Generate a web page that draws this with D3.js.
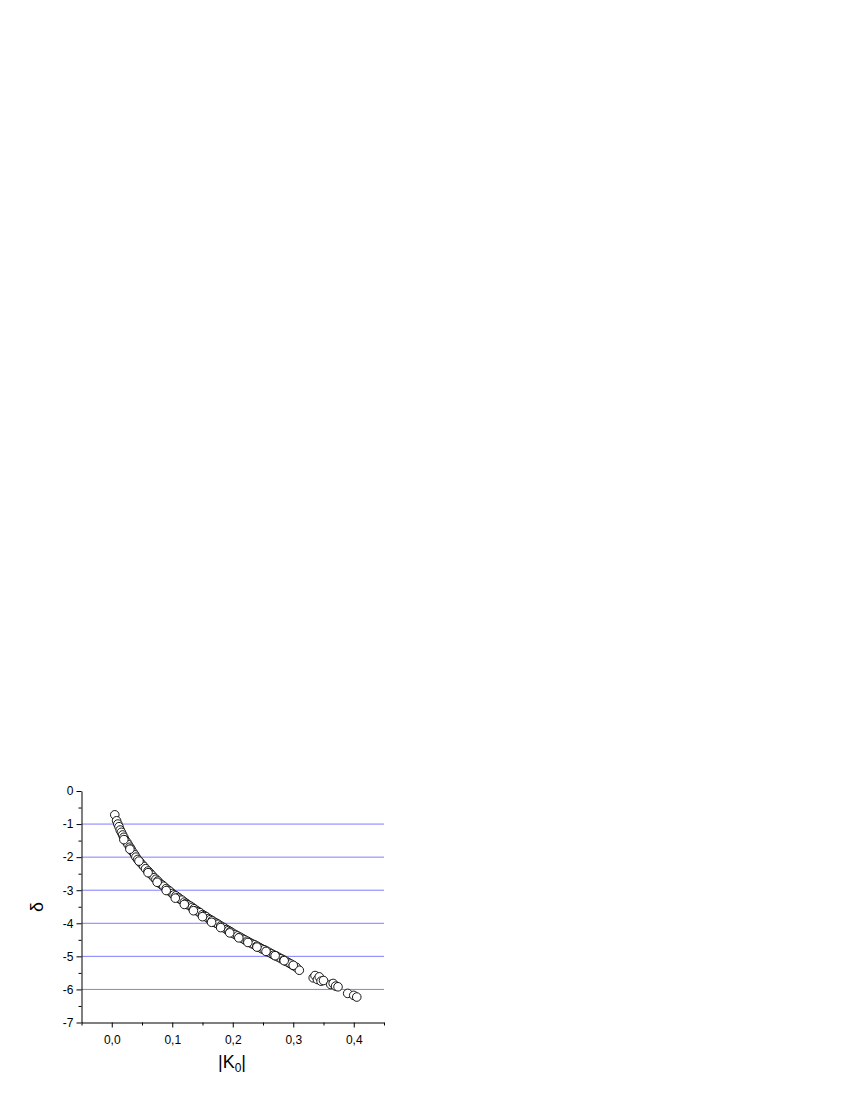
<!DOCTYPE html><html><head><script src="https://cdn.jsdelivr.net/npm/d3@7"></script>
<style>body{margin:0;background:#fff}</style></head><body><svg width="850" height="1100"></svg><script>
const kValues=[0.005,0.008,0.010,0.012,0.014,0.016,0.018,0.020,0.022,0.025,0.027,0.030,0.032,0.035,0.038,0.040,0.043,0.046,0.050,0.053,0.056,0.060,0.063,0.066,0.070,0.073,0.076,0.080,0.083,0.086,0.090,0.093,0.096,0.100,0.103,0.106,0.110,0.113,0.116,0.120,0.123,0.126,0.130,0.133,0.136,0.140,0.143,0.146,0.150,0.153,0.156,0.160,0.163,0.166,0.170,0.173,0.176,0.180,0.183,0.186,0.190,0.193,0.196,0.200,0.204,0.208,0.212,0.216,0.220,0.224,0.228,0.232,0.236,0.240,0.244,0.248,0.252,0.256,0.260,0.264,0.268,0.272,0.276,0.280,0.284,0.288,0.292,0.296,0.300,0.305,0.310,0.333,0.336,0.340,0.343,0.346,0.350,0.362,0.366,0.370,0.374,0.390,0.400,0.405,
0.020,0.030,0.045,0.060,0.075,0.090,0.105,0.120,0.135,0.150,0.165,0.180,0.195,0.210,0.225,0.240,0.255,0.270,0.285,0.300];
const deltaValues=[-0.72,-0.90,-1.00,-1.08,-1.18,-1.25,-1.33,-1.40,-1.48,-1.55,-1.62,-1.70,-1.76,-1.85,-1.93,-2.00,-2.07,-2.14,-2.22,-2.28,-2.35,-2.42,-2.48,-2.54,-2.62,-2.67,-2.72,-2.80,-2.84,-2.88,-2.95,-3.00,-3.03,-3.10,-3.14,-3.17,-3.22,-3.27,-3.30,-3.36,-3.40,-3.44,-3.48,-3.52,-3.56,-3.61,-3.65,-3.68,-3.74,-3.77,-3.80,-3.86,-3.89,-3.92,-3.97,-4.00,-4.03,-4.08,-4.11,-4.14,-4.19,-4.22,-4.25,-4.30,-4.34,-4.38,-4.42,-4.46,-4.50,-4.54,-4.58,-4.62,-4.65,-4.69,-4.73,-4.77,-4.80,-4.84,-4.88,-4.92,-4.96,-4.99,-5.03,-5.07,-5.11,-5.15,-5.19,-5.23,-5.28,-5.33,-5.42,-5.65,-5.58,-5.70,-5.62,-5.75,-5.73,-5.85,-5.82,-5.90,-5.92,-6.12,-6.18,-6.23,
-1.47,-1.76,-2.12,-2.47,-2.76,-3.01,-3.24,-3.43,-3.62,-3.80,-3.97,-4.13,-4.29,-4.44,-4.58,-4.72,-4.85,-4.98,-5.13,-5.27];
const xTicks=[0,0.1,0.2,0.3,0.4];
const yTicks=[0,-1,-2,-3,-4,-5,-6,-7];
const gridValues=[-1,-2,-3,-4,-5,-6];
const svg=d3.select("svg");
const x=d3.scaleLinear().domain([-0.05,0.45]).range([81.5,384]);
const y=d3.scaleLinear().domain([-7,0]).range([1022.5,791]);
const fmt=d=>d3.format(".1f")(d).replace(".",",");
svg.append("g").selectAll("line").data(gridValues).join("line")
 .attr("x1",x(-0.05)).attr("x2",x(0.45)).attr("y1",d=>y(d)).attr("y2",d=>y(d))
 .attr("stroke","#7f7fff").attr("stroke-width",1);
const gx=svg.append("g").attr("transform","translate(0,1022.5)")
 .call(d3.axisBottom(x).tickValues(xTicks).tickFormat(fmt).tickSize(5).tickSizeOuter(0));
svg.append("g").attr("transform","translate(0,1022.5)")
 .call(d3.axisBottom(x).tickValues(d3.range(-0.05,0.451,0.05).filter(v=>Math.abs(Math.round(v*10)-v*10)>0.01)).tickFormat("").tickSize(3).tickSizeOuter(0)).select(".domain").remove();
const gy=svg.append("g").attr("transform","translate(81.5,0)")
 .call(d3.axisLeft(y).tickValues(yTicks).tickFormat(d=>d===0?"0":d3.format("d")(d).replace("−","-")).tickSize(5).tickSizeOuter(0));
svg.append("g").attr("transform","translate(81.5,0)")
 .call(d3.axisLeft(y).tickValues(d3.range(-6.5,0,1)).tickFormat("").tickSize(3).tickSizeOuter(0)).select(".domain").remove();
svg.selectAll(".tick text").attr("font-family","Arial, Liberation Sans").attr("font-size",12).attr("fill","#000");
gx.selectAll(".tick text").attr("dy","1.1em");
svg.append("g").selectAll("circle").data(kValues.map((k,i)=>[k,deltaValues[i]])).join("circle")
 .attr("cx",d=>x(d[0])).attr("cy",d=>y(d[1])).attr("r",4.3)
 .attr("fill","#fff").attr("stroke","#000").attr("stroke-width",0.9);
svg.append("text").attr("x",232).attr("y",1068).attr("text-anchor","middle")
 .attr("font-family","Arial, Liberation Sans").attr("font-size",18)
 .html('|K<tspan font-size="12" dy="4">0</tspan><tspan dy="-4">|</tspan>');
svg.append("text").attr("transform","translate(43,907) rotate(-90)").attr("text-anchor","middle")
 .attr("font-family","Arial, Liberation Sans").attr("font-size",18).text("δ");
</script></body></html>
